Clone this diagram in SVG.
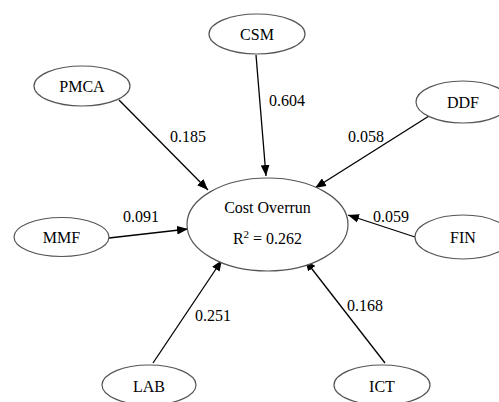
<svg xmlns="http://www.w3.org/2000/svg" width="499" height="402" viewBox="0 0 499 402">
<defs>
<marker id="arr" viewBox="0 0 10 8" refX="10" refY="4" markerWidth="11" markerHeight="9" markerUnits="userSpaceOnUse" orient="auto">
<path d="M0,0 L10,4 L0,8 Z" fill="#000"/>
</marker>
</defs>
<style>
.n ellipse{fill:#fff;stroke:#555;stroke-width:1.2}
text{font-family:"Liberation Serif","Times New Roman",serif;font-size:16px;fill:#000}
.n text{text-anchor:middle}
.c line{stroke:#000;stroke-width:1.3;marker-end:url(#arr)}
</style>
<rect width="499" height="402" fill="#fff"/>
<g class="c" id="connectors">
<line x1="256" y1="55" x2="266" y2="176"/>
<line x1="119" y1="100" x2="208" y2="190"/>
<line x1="429" y1="116" x2="315" y2="188"/>
<line x1="109" y1="238" x2="188" y2="229"/>
<line x1="415" y1="237" x2="348" y2="215"/>
<line x1="153" y1="363" x2="222" y2="260"/>
<line x1="385" y1="363" x2="305" y2="260"/>
</g>
<g id="labels">
<text x="269" y="106">0.604</text>
<text x="170" y="142">0.185</text>
<text x="348" y="142">0.058</text>
<text x="123" y="222">0.091</text>
<text x="373" y="222">0.059</text>
<text x="195" y="321">0.251</text>
<text x="347" y="311">0.168</text>
</g>
<g class="n" id="cost-overrun">
<ellipse cx="267.5" cy="224.5" rx="80.5" ry="46.5"/>
<text x="267.5" y="213">Cost Overrun</text>
<text x="267.5" y="244">R<tspan font-size="11" dy="-6">2</tspan><tspan dy="6"> = 0.262</tspan></text>
</g>
<g class="n" id="csm"><ellipse cx="257" cy="34" rx="48" ry="20"/><text x="257" y="40">CSM</text></g>
<g class="n" id="pmca"><ellipse cx="82" cy="86" rx="48" ry="20"/><text x="82" y="92">PMCA</text></g>
<g class="n" id="ddf"><ellipse cx="463" cy="102" rx="47" ry="21"/><text x="463" y="108">DDF</text></g>
<g class="n" id="mmf"><ellipse cx="61.5" cy="237" rx="47.5" ry="19.5"/><text x="61.5" y="243">MMF</text></g>
<g class="n" id="fin"><ellipse cx="463" cy="237" rx="48" ry="22"/><text x="463" y="243">FIN</text></g>
<g class="n" id="lab"><ellipse cx="149" cy="385" rx="47" ry="20"/><text x="149" y="392">LAB</text></g>
<g class="n" id="ict"><ellipse cx="382" cy="385" rx="48" ry="20"/><text x="382" y="392">ICT</text></g>
</svg>
